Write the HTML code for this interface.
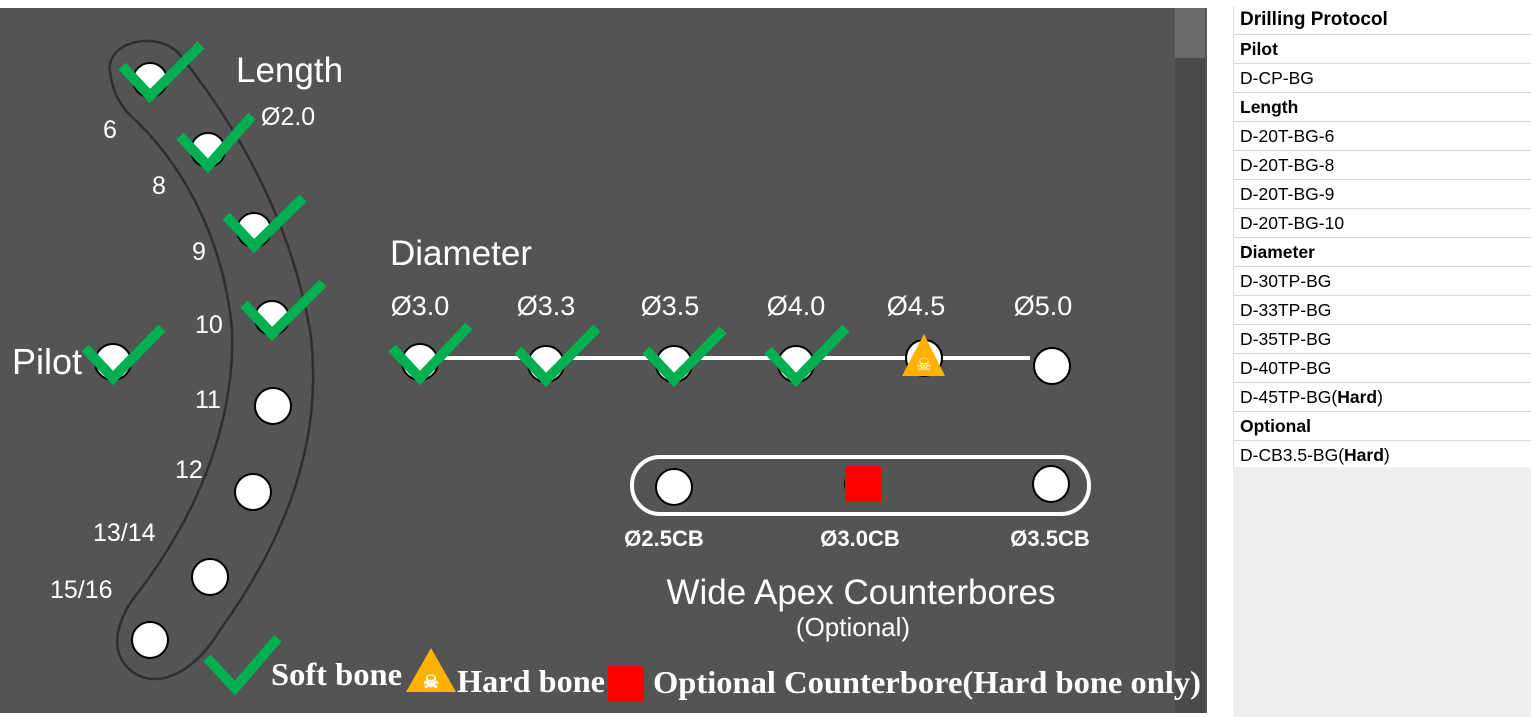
<!DOCTYPE html>
<html><head><meta charset="utf-8"><style>
body{margin:0;width:1531px;height:717px;overflow:hidden;background:#fff;font-family:"Liberation Sans",sans-serif;position:relative}
#panel{position:absolute;left:0;top:8px;width:1207px;height:705px;background:#545454}
#table{position:absolute;left:1233px;top:6px;width:298px}
.row{height:28px;border-bottom:1px solid #d8d8d8;font-size:17.5px;line-height:28px;padding-left:6px;color:#000;border-left:1px solid #ddd}
.b{font-weight:bold}
#below{position:absolute;left:1233px;top:467px;width:298px;height:250px;background:#efefef}
</style></head><body>
<div id="panel"></div>
<div style="position:absolute;left:1175px;top:8px;width:30px;height:705px;background:#4a4a4a"><div style="height:50px;background:#6a6a6a"></div></div>
<svg width="1207" height="717" style="position:absolute;left:0;top:0">
<path d="M110,72 C105,40 160,30 180,55 C240,130 290,220 310,330 C325,440 285,540 220,630 C190,680 150,690 128,668 C110,650 115,620 140,590 C200,510 235,420 232,330 C225,250 190,170 130,115 C115,100 112,85 110,72 Z" fill="none" stroke="#2e2e2e" stroke-width="2.5"/>
<g fill="#fff" font-family="Liberation Sans" font-size="25">
<text x="236" y="82" font-size="35">Length</text>
<text x="261" y="125" font-size="25">Ø2.0</text>
<text x="103" y="138">6</text><text x="152" y="194">8</text><text x="192" y="260">9</text><text x="195" y="333">10</text><text x="195" y="408">11</text><text x="175" y="478">12</text><text x="93" y="541">13/14</text><text x="50" y="598">15/16</text>
<text x="12" y="374" font-size="36">Pilot</text>
<text x="390" y="265" font-size="35">Diameter</text>
<g font-size="27"><text x="420" y="315" text-anchor="middle">Ø3.0</text><text x="546" y="315" text-anchor="middle">Ø3.3</text><text x="670" y="315" text-anchor="middle">Ø3.5</text><text x="796" y="315" text-anchor="middle">Ø4.0</text><text x="916" y="315" text-anchor="middle">Ø4.5</text><text x="1043" y="315" text-anchor="middle">Ø5.0</text></g>
<text x="861" y="604" font-size="35" text-anchor="middle">Wide Apex Counterbores</text>
<text x="853" y="636" font-size="26" text-anchor="middle">(Optional)</text>
<g font-weight="bold" font-size="22" text-anchor="middle"><text x="664" y="546">Ø2.5CB</text><text x="860" y="546">Ø3.0CB</text><text x="1050" y="546">Ø3.5CB</text></g>
</g>
<line x1="420" y1="358" x2="1030" y2="358" stroke="#fff" stroke-width="4"/>
<rect x="632" y="457" width="457" height="57" rx="28" fill="none" stroke="#fff" stroke-width="4"/>
<g fill="#fff" stroke="#000" stroke-width="2">
<circle cx="150" cy="80" r="17"/><circle cx="208" cy="150" r="17"/><circle cx="254" cy="230" r="17"/><circle cx="272" cy="318" r="17"/><circle cx="273" cy="406" r="18"/><circle cx="253" cy="492" r="18"/><circle cx="210" cy="577" r="18"/><circle cx="150" cy="640" r="18"/>
<circle cx="113" cy="362" r="18"/>
<circle cx="420" cy="362" r="18"/><circle cx="546" cy="364" r="18"/><circle cx="674" cy="364" r="18"/><circle cx="796" cy="364" r="18"/><circle cx="924" cy="358" r="18"/><circle cx="1052" cy="366" r="18"/>
<circle cx="674" cy="487" r="18"/><circle cx="862" cy="484" r="17"/><circle cx="1051" cy="484" r="18"/>
</g>
<rect x="845" y="466" width="37" height="36" fill="#f00"/>
<g fill="none" stroke="#00b050" stroke-width="10">
<polyline points="122,66 150,96 201,45"/><polyline points="180,136 208,166 252,116"/><polyline points="226,216 254,246 303,198"/><polyline points="244,304 272,334 323,283"/>
<polyline points="85,348 113,378 162,328"/>
<polyline points="392,348 420,378 469,326"/><polyline points="518,350 546,380 597,328"/><polyline points="646,350 674,380 723,330"/><polyline points="768,350 796,380 846,328"/>
<polyline points="207,658 235,688 278,638"/>
</g>
<g><polygon points="924,334 945,376 902,376" fill="#ffb300"/><text x="924" y="371" font-size="18" fill="#fff" text-anchor="middle">☠</text></g>
<g font-family="Liberation Serif" font-weight="bold" font-size="32" fill="#fff">
<text x="271" y="685" textLength="131" lengthAdjust="spacingAndGlyphs">Soft bone</text>
<polygon points="431,648 456,692 406,692" fill="#ffb300"/><text x="431" y="688" font-size="18" text-anchor="middle">☠</text>
<text x="457" y="692" textLength="148" lengthAdjust="spacingAndGlyphs">Hard bone</text>
<rect x="608" y="666" width="36" height="36" fill="#f00"/>
<text x="653" y="693" textLength="548" lengthAdjust="spacingAndGlyphs">Optional Counterbore(Hard bone only)</text>
</g>
</svg>
<div id="table">
<div class="row b" style="font-size:19px">Drilling Protocol</div>
<div class="row b">Pilot</div><div class="row">D-CP-BG</div>
<div class="row b">Length</div><div class="row">D-20T-BG-6</div><div class="row">D-20T-BG-8</div><div class="row">D-20T-BG-9</div><div class="row">D-20T-BG-10</div>
<div class="row b">Diameter</div><div class="row">D-30TP-BG</div><div class="row">D-33TP-BG</div><div class="row">D-35TP-BG</div><div class="row">D-40TP-BG</div><div class="row">D-45TP-BG(<b>Hard</b>)</div>
<div class="row b">Optional</div><div class="row">D-CB3.5-BG(<b>Hard</b>)</div>
</div>
<div id="below"></div>
</body></html>
